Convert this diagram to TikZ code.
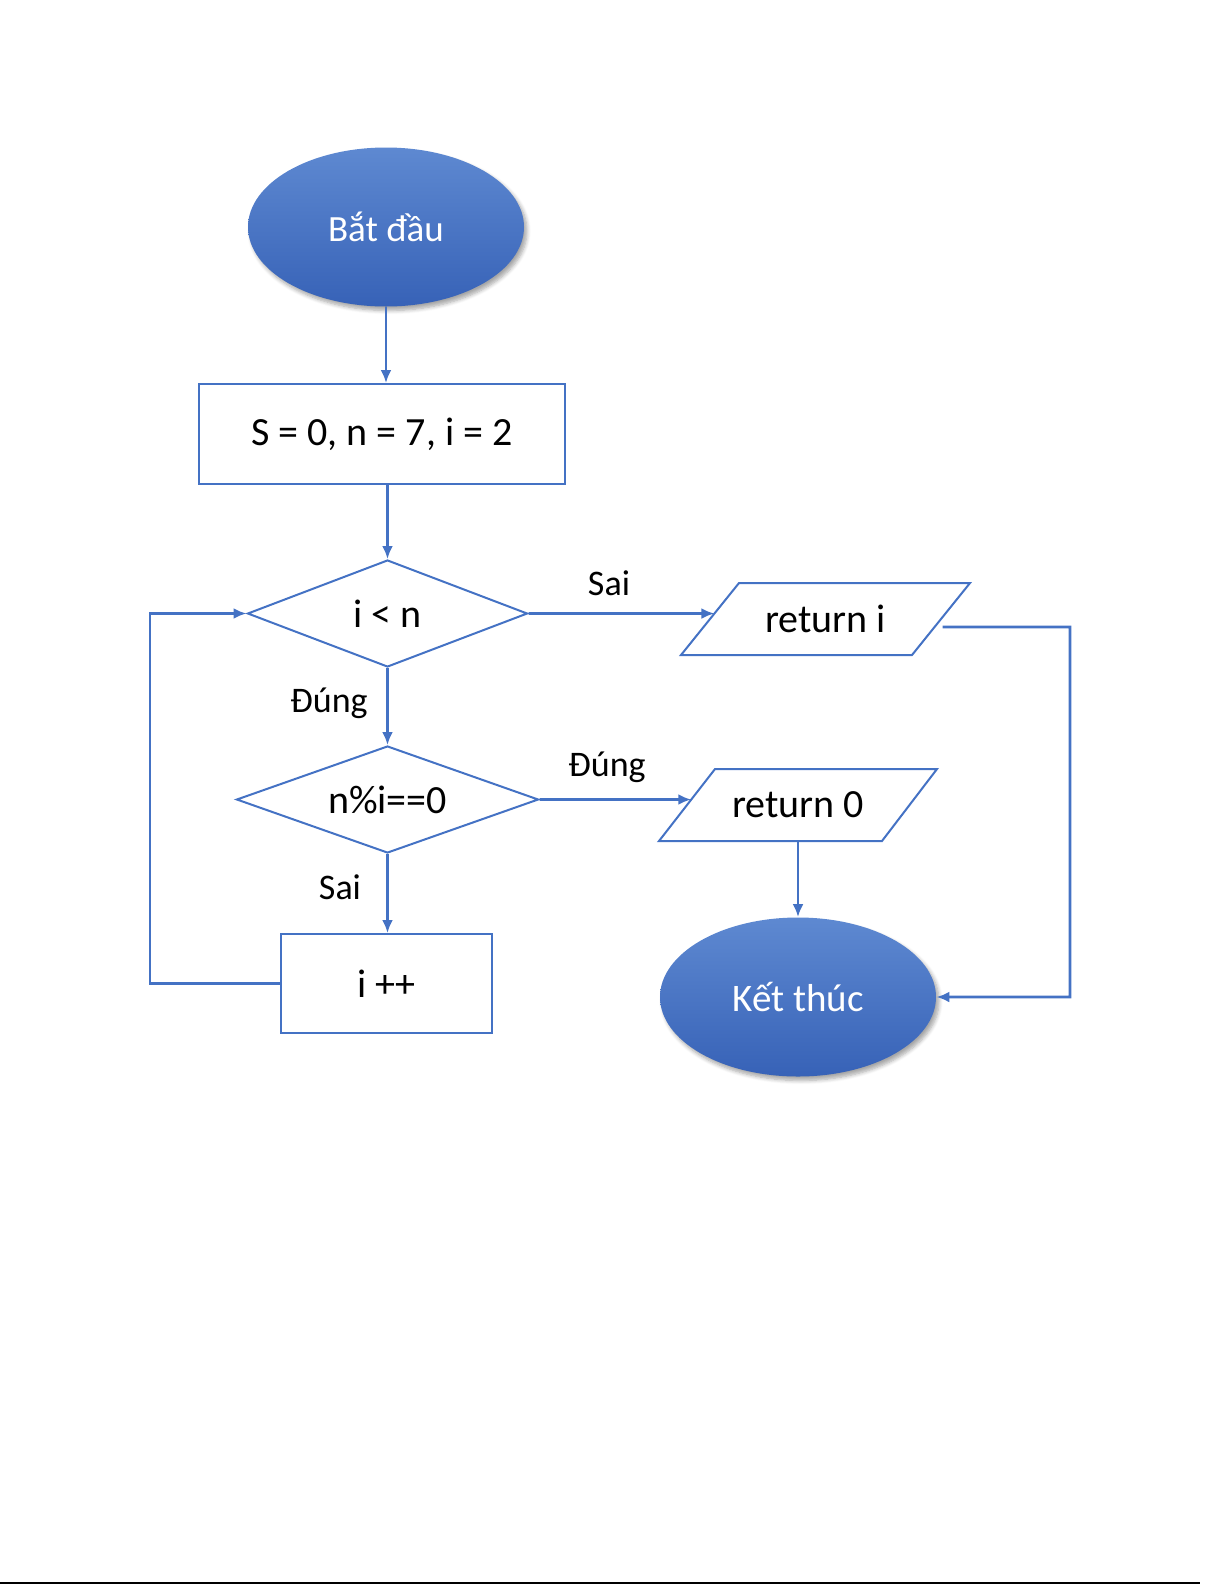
\documentclass[tikz,border=0pt]{standalone}
\usepackage{fontspec}
\setmainfont{Carlito}
\usetikzlibrary{shapes.geometric,arrows.meta,shadows.blur,calc}
\definecolor{lblue}{HTML}{4472C4}
\definecolor{etop}{HTML}{5E89D1}
\definecolor{ebot}{HTML}{3762B7}
\begin{document}
\begin{tikzpicture}[x=0.5pt,y=-0.5pt,
  terminal/.style={ellipse, minimum width=138pt, minimum height=79.5pt, inner sep=0pt,
    top color=etop, bottom color=ebot, draw=none, text=white,
    font=\fontsize{19.5}{23}\selectfont,
    blur shadow={shadow xshift=1.5pt, shadow yshift=-2pt, shadow blur steps=6, shadow opacity=35}},
  process/.style={rectangle, draw=lblue, line width=1pt, inner sep=0pt, font=\fontsize{20}{24}\selectfont},
  decision/.style={diamond, aspect=2.8, draw=lblue, line width=1pt, inner sep=0pt, font=\fontsize{20}{24}\selectfont},
  iotext/.style={inner sep=0pt, font=\fontsize{20}{24}\selectfont},
  ioline/.style={draw=lblue, line width=1pt, line join=miter},
  conn/.style={draw=lblue, line width=1.4pt, -{Latex[length=6.5pt,width=5.5pt]}},
  lbl/.style={inner sep=0pt, font=\fontsize{18}{22}\selectfont}
]
\useasboundingbox (0,0) rectangle (1225,1585);

% nodes
\node[terminal, font=\fontsize{18.5}{22}\selectfont] (start) at (386,227) {Bắt đầu};
\node[process, minimum width=183pt, minimum height=50pt] (init) at (382,434) {S = 0, n = 7, i = 2};
\node[decision, minimum width=140pt, minimum height=53.5pt] (d1) at (387.5,613.5) {i < n};
\node[decision, minimum width=151pt, minimum height=53.5pt] (d2) at (387.5,799.5) {n\%i==0};
\node[process, minimum width=105.5pt, minimum height=49.5pt] (inc) at (386.5,983.5) {i ++};

% return i parallelogram
\node[iotext] (ri) at (825.5,619) {return i};
\coordinate (ri-bl) at (681,655);
\coordinate (ri-tl) at (739,583);
\coordinate (ri-tr) at (970,583);
\coordinate (ri-br) at (912,655);
\draw[ioline] (ri-bl) -- (ri-tl) -- (ri-tr) -- (ri-br) -- cycle;

% return 0 parallelogram
\node[iotext] (r0) at (798,805) {return 0};
\coordinate (r0-bl) at (659,841);
\coordinate (r0-tl) at (715,769);
\coordinate (r0-tr) at (937,769);
\coordinate (r0-br) at (882,841);
\draw[ioline] (r0-bl) -- (r0-tl) -- (r0-tr) -- (r0-br) -- cycle;

\node[terminal] (end) at (798,997) {Kết thúc};

% labels
\node[lbl] (l1) at (609,583) {Sai};
\node[lbl] (l2) at (329,703) {Đúng};
\node[lbl] (l3) at (607,767) {Đúng};
\node[lbl] (l4) at (340,887) {Sai};

% connectors
\draw[conn] (start.south) -- (start.south |- init.north);
\draw[conn] (init.south -| d1.north) -- (d1.north);
\draw[conn] (d1.south) -- (d2.north);
\draw[conn] (d2.south) -- (d2.south |- inc.north);

\coordinate (loopx) at (150,983.5);
\draw[conn] (inc.west) -- (inc.west -| loopx) |- (d1.west);

\coordinate (ri-in) at ($(ri-bl)!0.576!(ri-tl)$);
\draw[conn] (d1.east) -- (ri-in);

\coordinate (r0-in) at ($(r0-bl)!0.576!(r0-tl)$);
\draw[conn] (d2.east) -- (r0-in);

\coordinate (r0-out) at (r0 |- r0-bl);
\draw[conn] (r0-out) -- (end.north);

\coordinate (ri-out) at ($(ri-br)!0.39!(ri-tr)+(8,0)$);
\coordinate (rcorner) at (1070,627);
\draw[conn] (ri-out) -- (rcorner) |- (end.east);

% page bottom rule
\draw[black, line width=1pt] (0,1583) -- (1200,1583);
\end{tikzpicture}
\end{document}
